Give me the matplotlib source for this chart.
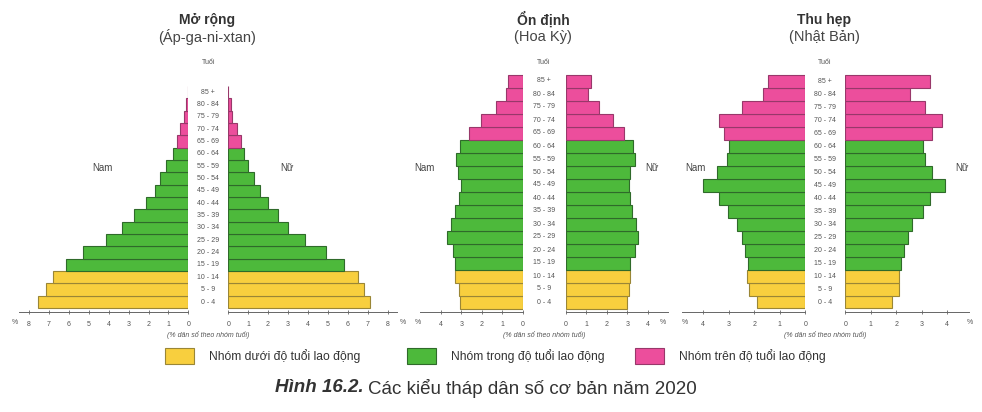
import numpy as np
import matplotlib.pyplot as plt
from matplotlib.patches import Rectangle

plt.rcParams['font.family'] = ['Liberation Sans', 'DejaVu Sans']

# age groups, bottom to top
ages = ['0 - 4', '5 - 9', '10 - 14', '15 - 19', '20 - 24', '25 - 29', '30 - 34',
        '35 - 39', '40 - 44', '45 - 49', '50 - 54', '55 - 59', '60 - 64',
        '65 - 69', '70 - 74', '75 - 79', '80 - 84', '85 +']

# % population per age group
afg_male = [7.55, 7.13, 6.8, 6.16, 5.29, 4.14, 3.32, 2.73, 2.15, 1.68, 1.41, 1.11,
            0.77, 0.57, 0.40, 0.23, 0.13, 0.0]
afg_female = [7.1, 6.82, 6.52, 5.82, 4.92, 3.87, 2.98, 2.52, 2.02, 1.58, 1.28, 0.97,
              0.77, 0.62, 0.44, 0.2, 0.12, 0.0]
usa_male = [3.05, 3.11, 3.32, 3.32, 3.42, 3.68, 3.48, 3.32, 3.13, 3.01, 3.14, 3.24,
            3.05, 2.64, 2.03, 1.28, 0.81, 0.70]
usa_female = [2.97, 3.08, 3.16, 3.16, 3.38, 3.54, 3.44, 3.25, 3.16, 3.08, 3.16, 3.36,
              3.28, 2.85, 2.3, 1.64, 1.11, 1.23]
jpn_male = [1.88, 2.2, 2.27, 2.26, 2.38, 2.47, 2.67, 3.03, 3.37, 4.0, 3.45, 3.06,
            2.98, 3.18, 3.39, 2.48, 1.67, 1.46]
jpn_female = [1.82, 2.11, 2.11, 2.18, 2.31, 2.44, 2.63, 3.03, 3.32, 3.92, 3.41, 3.14,
              3.03, 3.39, 3.79, 3.13, 2.54, 3.33]

titles = ['Mở rộng', 'Ổn định', 'Thu hẹp']
countries = ['(Áp-ga-ni-xtan)', '(Hoa Kỳ)', '(Nhật Bản)']
legend_labels = ['Nhóm dưới độ tuổi lao động', 'Nhóm trong độ tuổi lao động',
                 'Nhóm trên độ tuổi lao động']

fills = ['#f8cf3e', '#4db93b', '#ec4e9c']
edges = ['#9a8636', '#2f6a2a', '#98386a']

W, H = 982, 412
fig = plt.figure(figsize=(W / 100, H / 100), dpi=100)


def fx(px):
    return px / W


def fy(py):
    return (H - py) / H


# layout per pyramid: male zero px, female zero px, px per %, axis length, row step, ticks
layouts = [
    dict(m0=188.3, f0=228.3, sc=19.9, xmax=8.5, step=12.35, ticks=range(0, 9), mid=208.3,
         nam=102, nu=287, pct=(15, 403), data=(afg_male, afg_female)),
    dict(m0=522.7, f0=565.7, sc=20.5, xmax=5.0, step=13.0, ticks=range(0, 5), mid=544,
         nam=424, nu=652, pct=(418, 663), data=(usa_male, usa_female)),
    dict(m0=805.3, f0=845.3, sc=25.5, xmax=4.85, step=12.95, ticks=range(0, 5), mid=825,
         nam=695, nu=962, pct=(685, 970), data=(jpn_male, jpn_female)),
]

y_base = 302.0   # pixel centre of the 0-4 bar
y_axis = 312.3   # pixel row of the x axis

colors = [fills[0]] * 3 + [fills[1]] * 10 + [fills[2]] * 5
ecolors = [edges[0]] * 3 + [edges[1]] * 10 + [edges[2]] * 5
yy = np.arange(len(ages))

for k, L in enumerate(layouts):
    step = L['step']
    ybot = -(y_axis - y_base) / step
    ytop = 17.6
    top_px = y_base - ytop * step
    width_px = L['xmax'] * L['sc']
    for side, vals in zip(['m', 'f'], L['data']):
        if side == 'm':
            left_px = L['m0'] - width_px
        else:
            left_px = L['f0']
        ax = fig.add_axes([fx(left_px), fy(y_axis), width_px / W, (y_axis - top_px) / H])
        ax.barh(yy, vals, height=1.0, color=colors, edgecolor=ecolors, linewidth=0.8)
        ax.set_ylim(ybot, ytop)
        if side == 'm':
            ax.set_xlim(L['xmax'], 0)
        else:
            ax.set_xlim(0, L['xmax'])
        for s in ['top', 'left', 'right']:
            ax.spines[s].set_visible(False)
        ax.spines['bottom'].set_color('#666666')
        ax.spines['bottom'].set_linewidth(0.7)
        ax.set_yticks([])
        ax.set_xticks(list(L['ticks']))
        ax.tick_params(axis='x', direction='inout', length=3, width=0.6, color='#666666',
                       labelsize=5, labelcolor='#555555', pad=5)
        ax.patch.set_visible(False)

    # age group labels
    for i, a in enumerate(ages):
        fig.text(fx(L['mid']), fy(y_base - i * step), a, ha='center', va='center',
                 fontsize=5, color='#555555')
    fig.text(fx(L['mid']), fy(62), 'Tuổi', ha='center', va='center', fontsize=5, color='#555555')
    fig.text(fx(L['nam']), fy(168), 'Nam', ha='center', va='center', fontsize=7, color='#444444')
    fig.text(fx(L['nu']), fy(168), 'Nữ', ha='center', va='center', fontsize=7, color='#444444')
    for p in L['pct']:
        fig.text(fx(p), fy(322), '%', ha='center', va='center', fontsize=5, color='#555555')
    fig.text(fx(L['mid']), fy(335), '(% dân số theo nhóm tuổi)', ha='center', va='center',
             fontsize=5, style='italic', color='#555555')

    fig.text(fx(L['mid'] - 1), fy(20), titles[k], ha='center', va='center', fontsize=10,
             fontweight='bold', color='#333333')
    fig.text(fx(L['mid'] - 1), fy(37), countries[k], ha='center', va='center', fontsize=10.5,
             color='#444444')

# legend
box_x = [165, 407, 635]
for bx, lab, fc, ec in zip(box_x, legend_labels, fills, edges):
    fig.patches.append(Rectangle((fx(bx), fy(364)), 29 / W, 16 / H, transform=fig.transFigure,
                                 facecolor=fc, edgecolor=ec, linewidth=0.8))
    fig.text(fx(bx + 44), fy(356), lab, ha='left', va='center', fontsize=8.7, color='#333333')

# caption
t1 = fig.text(fx(275), fy(388), 'Hình 16.2.', ha='left', va='center', fontsize=13.5,
              fontweight='bold', style='italic', color='#333333')
r = fig.canvas.get_renderer()
bb = t1.get_window_extent(renderer=r)
fig.text(bb.x1 / W + 4 / W, fy(388), 'Các kiểu tháp dân số cơ bản năm 2020', ha='left',
         va='center', fontsize=13.5, color='#333333')

fig.savefig('out.png', dpi=100, facecolor='white')
